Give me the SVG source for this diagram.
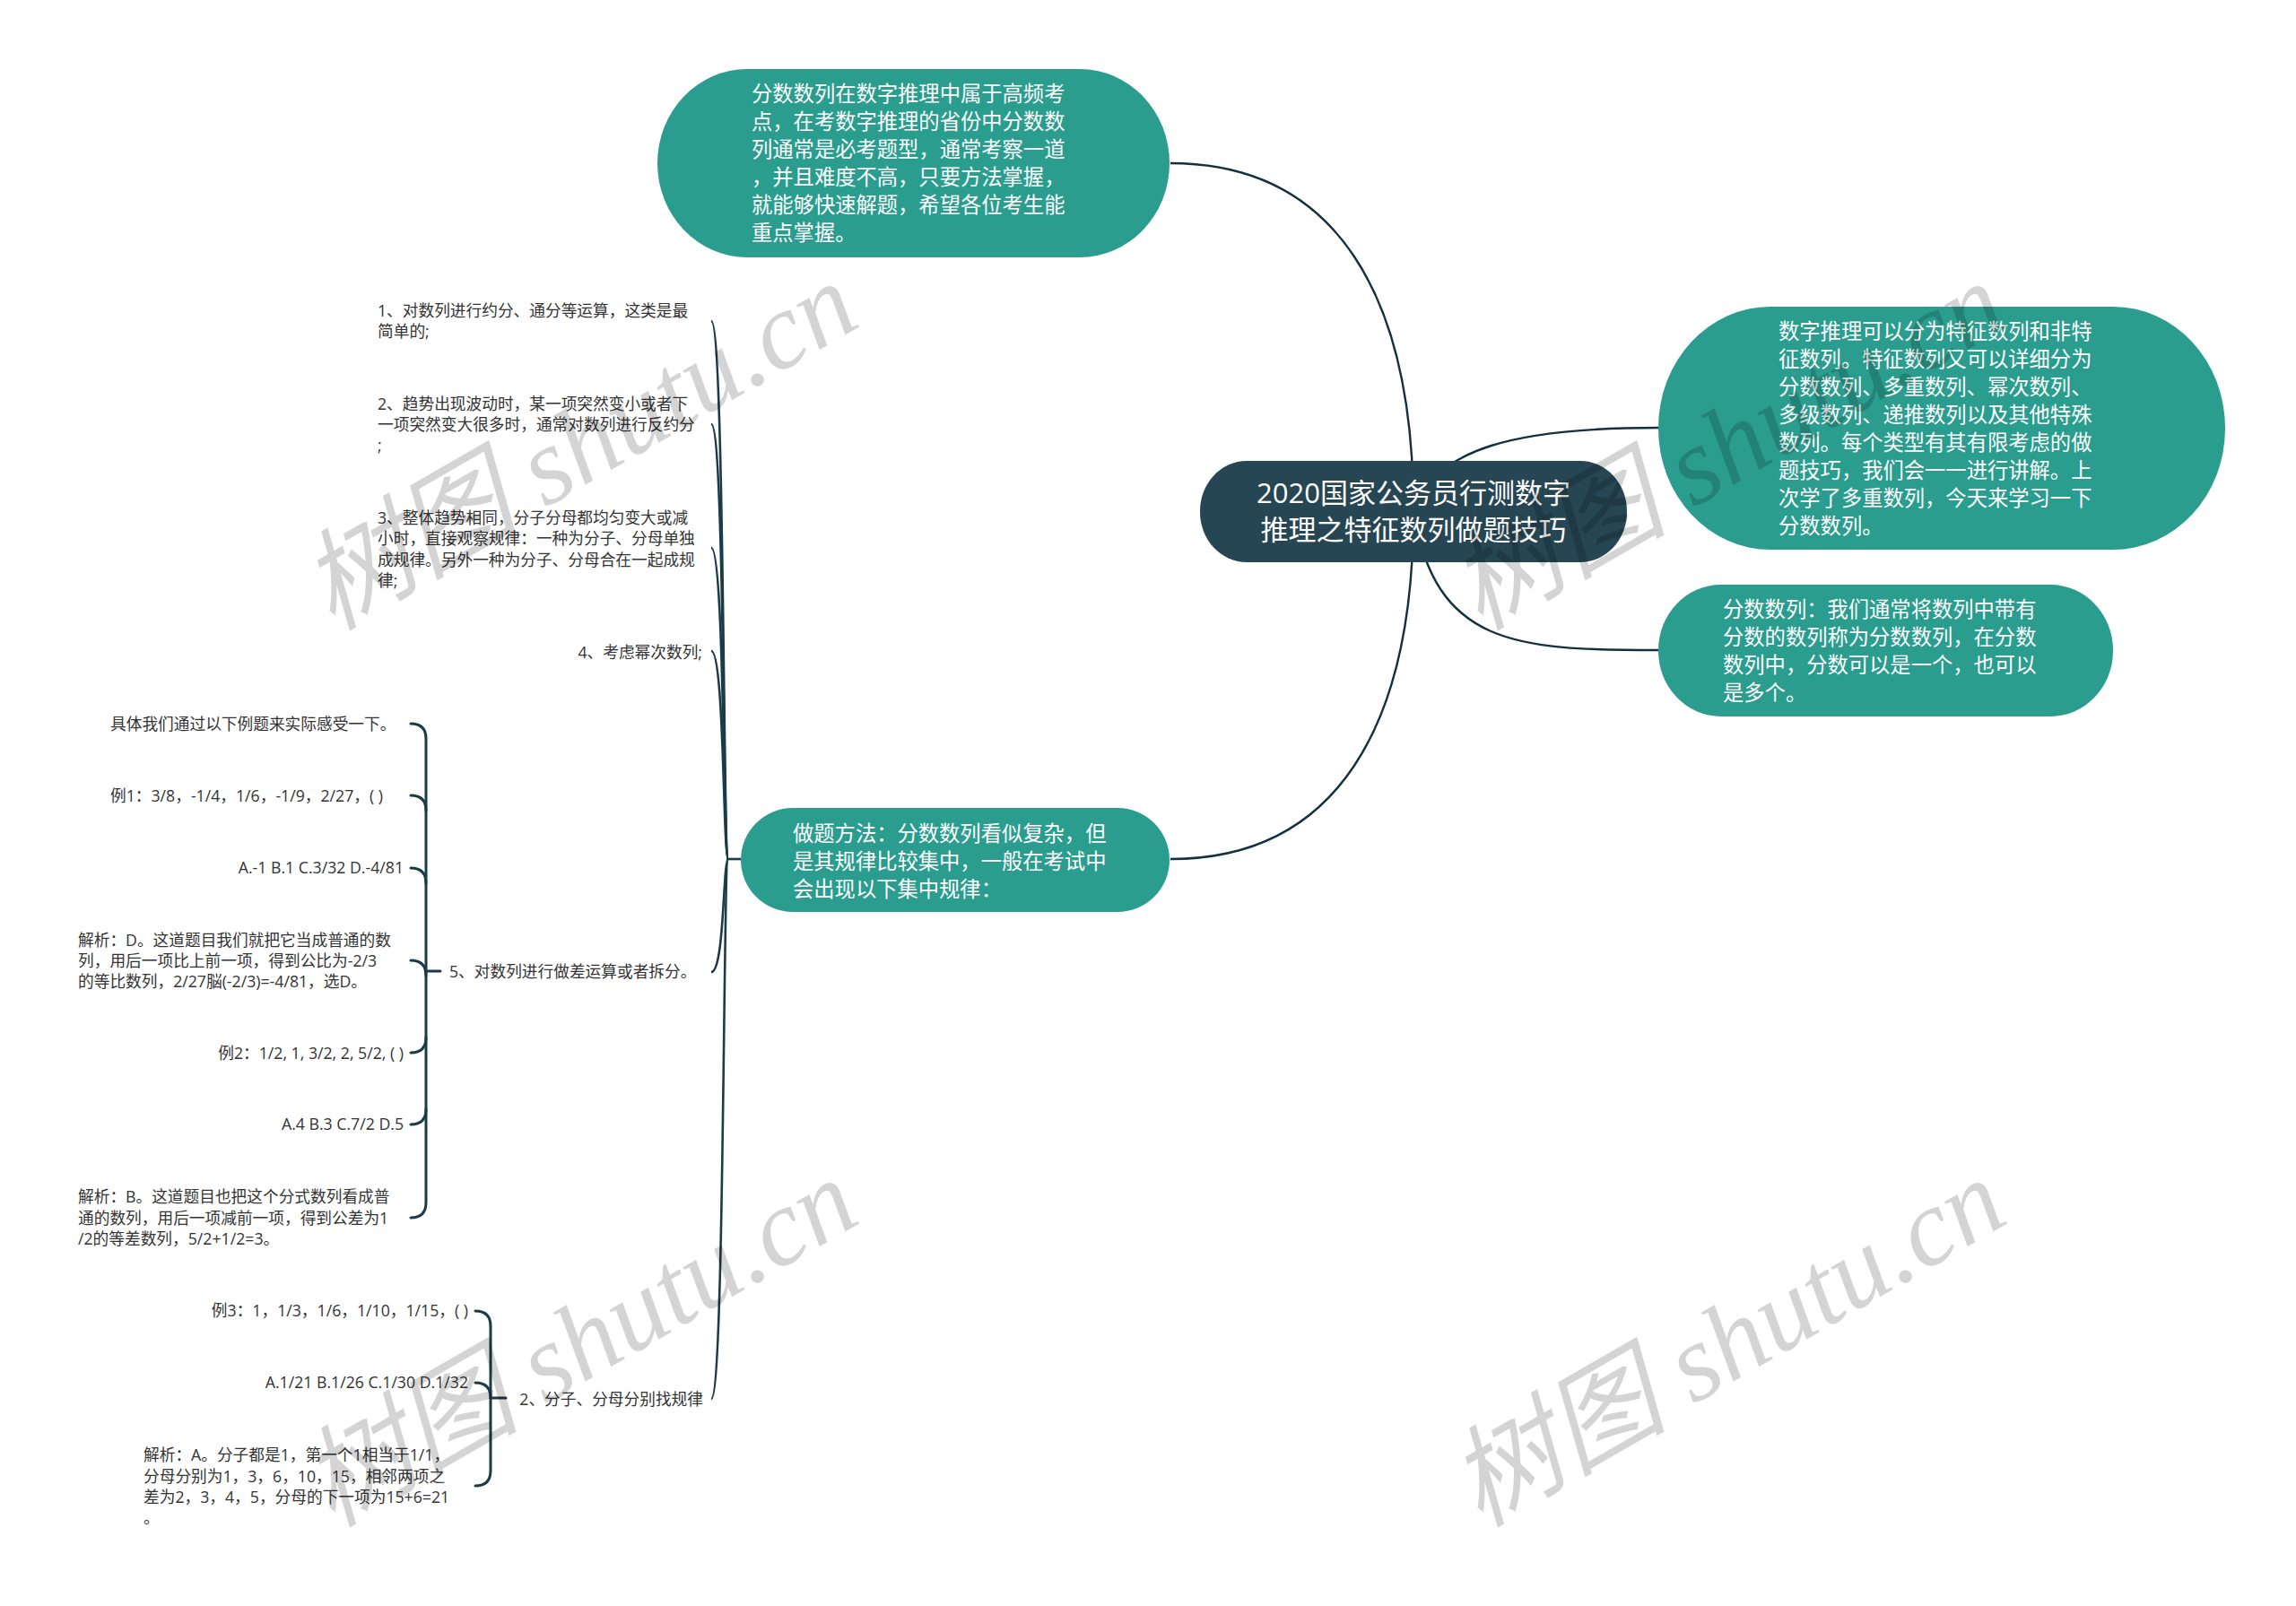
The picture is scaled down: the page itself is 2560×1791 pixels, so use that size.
<svg xmlns="http://www.w3.org/2000/svg" width="2560" height="1791" viewBox="0 0 2560 1791">
<style>
text{font-family:"Open Sans","Noto Sans CJK SC",sans-serif}
.s{font-size:17.7px;fill:#333}
.e{text-anchor:end}
.t{font-size:23.3px;fill:#fff}
.c{font-size:31px;fill:#fff;text-anchor:middle}
.teal{fill:#2a9d8f}
.dark{fill:#264653}
.m{fill:none;stroke:#12303d;stroke-width:2.4}
.l{fill:none;stroke:#1b3b49;stroke-width:2.6}
.b{fill:none;stroke:#1b3b49;stroke-width:3;stroke-linecap:round}
.w{font-family:"Liberation Serif","Noto Sans CJK SC",serif;font-size:122px;font-style:italic;fill:#000;fill-opacity:.17}
</style>
<rect width="2560" height="1791" fill="#fff"/>
<g id="connectors">
<path class="m" d="M1305,182C1490,182 1576,330 1576,570"/>
<path class="m" d="M1305,958C1490,958 1576,810 1576,570"/>
<path class="m" d="M1849,477C1690,477 1600,500 1576,570"/>
<path class="m" d="M1849,725C1690,725 1600,720 1576,570"/>
<path class="l" d="M826,958H810"/>
<path class="l" d="M812,958C806,958 808,358 793,358"/>
<path class="l" d="M812,958C806,958 808,473 793,473"/>
<path class="l" d="M812,958C806,958 808,611 793,611"/>
<path class="l" d="M812,958C806,958 808,726 793,726"/>
<path class="l" d="M812,958C806,958 808,1084 793,1084"/>
<path class="l" d="M812,958C806,958 808,1560 793,1560"/>
<path class="b" d="M458,807Q475,807 475,824V1341Q475,1358 458,1358"/>
<path class="b" d="M458,887Q475,887 475,904"/>
<path class="b" d="M458,968Q475,968 475,985"/>
<path class="b" d="M458,1071Q475,1071 475,1088"/>
<path class="b" d="M458,1174Q475,1174 475,1157"/>
<path class="b" d="M458,1254Q475,1254 475,1237"/>
<path class="b" d="M475,1083H491"/>
<path class="b" d="M530,1462Q547,1462 547,1479V1640Q547,1657 530,1657"/>
<path class="b" d="M530,1542Q547,1542 547,1559"/>
<path class="b" d="M547,1559H564"/>
</g>
<g id="root"><rect class="dark" x="1338" y="514" width="476" height="113" rx="52" ry="56"/>
<text class="c" x="1576" y="561">2020国家公务员行测数字</text><text class="c" x="1576" y="602">推理之特征数列做题技巧</text></g>
<g id="n-top"><rect class="teal" x="733" y="77" width="571" height="210" rx="100" ry="105"/>
<text class="t" x="838" y="113">分数数列在数字推理中属于高频考</text><text class="t" x="838" y="144">点，在考数字推理的省份中分数数</text><text class="t" x="838" y="175">列通常是必考题型，通常考察一道</text><text class="t" x="838" y="206">，并且难度不高，只要方法掌握，</text><text class="t" x="838" y="237">就能够快速解题，希望各位考生能</text><text class="t" x="838" y="268">重点掌握。</text></g>
<g id="n-right1"><rect class="teal" x="1849" y="342" width="632" height="271" rx="125" ry="135"/>
<text class="t" x="1983" y="378">数字推理可以分为特征数列和非特</text><text class="t" x="1983" y="409">征数列。特征数列又可以详细分为</text><text class="t" x="1983" y="440">分数数列、多重数列、幂次数列、</text><text class="t" x="1983" y="471">多级数列、递推数列以及其他特殊</text><text class="t" x="1983" y="502">数列。每个类型有其有限考虑的做</text><text class="t" x="1983" y="533">题技巧，我们会一一进行讲解。上</text><text class="t" x="1983" y="564">次学了多重数列，今天来学习一下</text><text class="t" x="1983" y="595">分数数列。</text></g>
<g id="n-right2"><rect class="teal" x="1849" y="652" width="507" height="147" rx="70" ry="73"/>
<text class="t" x="1921" y="688">分数数列：我们通常将数列中带有</text><text class="t" x="1921" y="719">分数的数列称为分数数列，在分数</text><text class="t" x="1921" y="750">数列中，分数可以是一个，也可以</text><text class="t" x="1921" y="781">是多个。</text></g>
<g id="n-method"><rect class="teal" x="826" y="901" width="478" height="116" rx="58" ry="58"/>
<text class="t" x="884" y="938">做题方法：分数数列看似复杂，但</text><text class="t" x="884" y="969">是其规律比较集中，一般在考试中</text><text class="t" x="884" y="1000">会出现以下集中规律：</text></g>
<g id="c1"><text class="s" x="421" y="353">1、对数列进行约分、通分等运算，这类是最</text><text class="s" x="421" y="376">简单的;</text></g>
<g id="c2"><text class="s" x="421" y="457">2、趋势出现波动时，某一项突然变小或者下</text><text class="s" x="421" y="480">一项突然变大很多时，通常对数列进行反约分</text><text class="s" x="421" y="503">;</text></g>
<g id="c3"><text class="s" x="421" y="584">3、整体趋势相同，分子分母都均匀变大或减</text><text class="s" x="421" y="607">小时，直接观察规律：一种为分子、分母单独</text><text class="s" x="421" y="631">成规律。另外一种为分子、分母合在一起成规</text><text class="s" x="421" y="654">律;</text></g>
<g id="c4"><text class="s e" x="783" y="734">4、考虑幂次数列;</text></g>
<g id="c5"><text class="s" x="501" y="1090">5、对数列进行做差运算或者拆分。</text></g>
<g id="c51"><text class="s" x="123" y="814">具体我们通过以下例题来实际感受一下。</text></g>
<g id="c52"><text class="s" x="123" y="894">例1：3/8，-1/4，1/6，-1/9，2/27，( )</text></g>
<g id="c53"><text class="s e" x="450" y="974">A.-1 B.1 C.3/32 D.-4/81</text></g>
<g id="c54"><text class="s" x="87" y="1055">解析：D。这道题目我们就把它当成普通的数</text><text class="s" x="87" y="1078">列，用后一项比上前一项，得到公比为-2/3</text><text class="s" x="87" y="1101">的等比数列，2/27脳(-2/3)=-4/81，选D。</text></g>
<g id="c55"><text class="s e" x="450" y="1181">例2：1/2, 1, 3/2, 2, 5/2, ( )</text></g>
<g id="c56"><text class="s e" x="450" y="1260">A.4 B.3 C.7/2 D.5</text></g>
<g id="c57"><text class="s" x="87" y="1341">解析：B。这道题目也把这个分式数列看成普</text><text class="s" x="87" y="1365">通的数列，用后一项减前一项，得到公差为1</text><text class="s" x="87" y="1388">/2的等差数列，5/2+1/2=3。</text></g>
<g id="c6"><text class="s e" x="784" y="1567">2、分子、分母分别找规律</text></g>
<g id="c61"><text class="s e" x="522" y="1468">例3：1，1/3，1/6，1/10，1/15，( )</text></g>
<g id="c62"><text class="s e" x="522" y="1548">A.1/21 B.1/26 C.1/30 D.1/32</text></g>
<g id="c63"><text class="s" x="160" y="1629">解析：A。分子都是1，第一个1相当于1/1，</text><text class="s" x="160" y="1653">分母分别为1，3，6，10，15，相邻两项之</text><text class="s" x="160" y="1676">差为2，3，4，5，分母的下一项为15+6=21</text><text class="s" x="160" y="1699">。</text></g>
<g id="watermarks">
<text class="w" transform="translate(370,704) rotate(-30)">树图 shutu.cn</text>
<text class="w" transform="translate(1650,704) rotate(-30)">树图 shutu.cn</text>
<text class="w" transform="translate(370,1704) rotate(-30)">树图 shutu.cn</text>
<text class="w" transform="translate(1650,1704) rotate(-30)">树图 shutu.cn</text>
</g>
</svg>
